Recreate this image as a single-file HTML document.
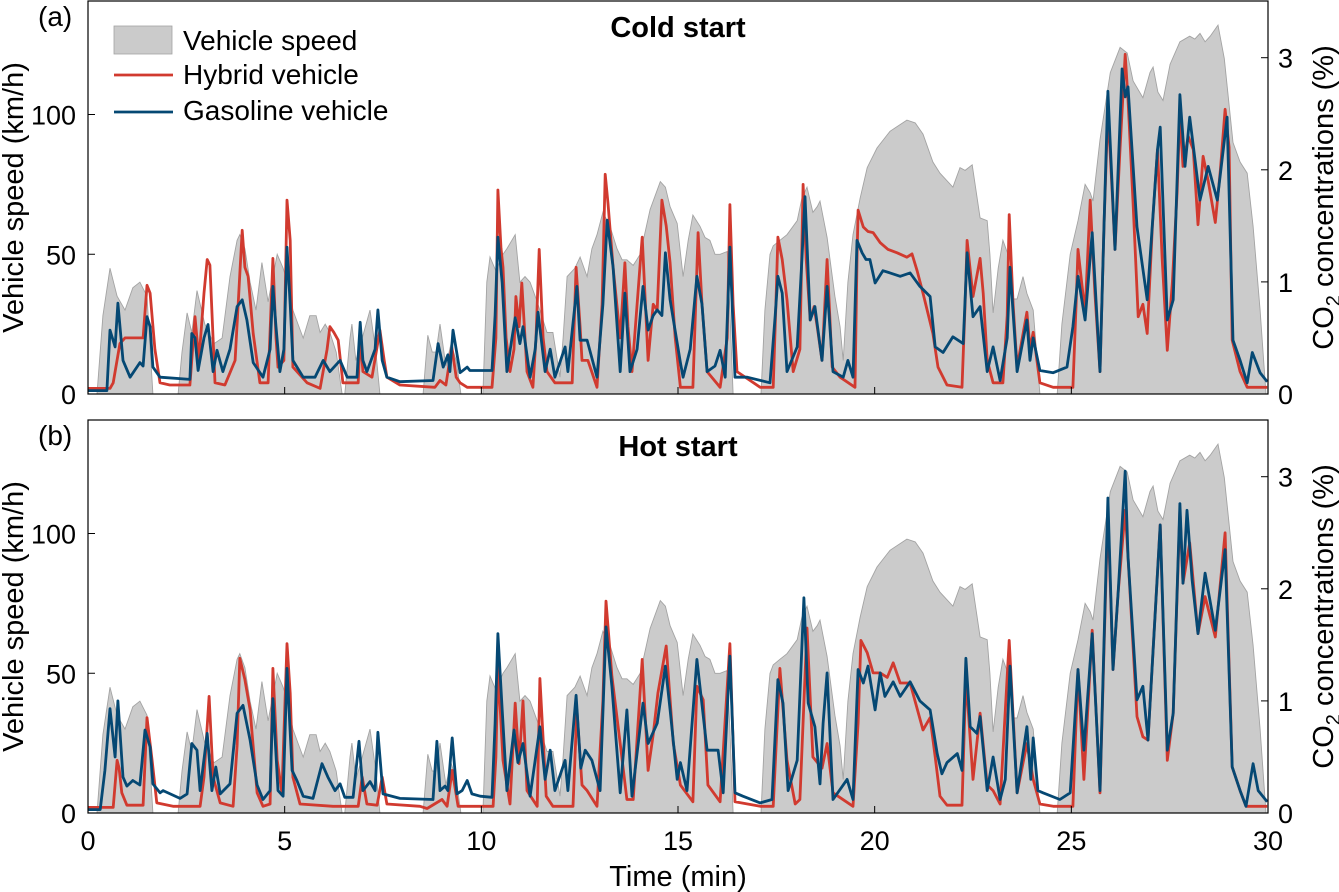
<!DOCTYPE html>
<html><head><meta charset="utf-8"><style>
html,body{margin:0;padding:0;background:#fff;}
svg{display:block;font-family:"Liberation Sans",Arial,sans-serif;}
</style></head><body>
<svg id="chart" width="1339" height="892" viewBox="0 0 1339 892" xmlns="http://www.w3.org/2000/svg"></svg>
<script>
const speedT=[0,0.23,0.38,0.56,0.74,0.94,1.14,1.32,1.5,1.65,2.29,2.39,2.52,2.64,2.77,2.97,3.2,3.41,3.61,3.79,3.86,3.99,4.12,4.27,4.42,4.58,4.81,4.96,5.09,5.21,5.34,5.47,5.64,5.8,5.9,6.03,6.15,6.31,6.46,6.53,6.66,6.71,6.81,6.97,7.17,7.32,7.42,8.52,8.64,8.75,8.85,8.95,9.1,9.23,9.36,9.48,10.04,10.14,10.22,10.37,10.55,10.65,10.86,10.98,11.11,11.24,11.42,11.67,11.82,12.0,12.08,12.18,12.38,12.51,12.69,12.81,12.94,13.09,13.27,13.45,13.58,13.7,13.86,14.04,14.29,14.55,14.68,14.8,14.98,15.13,15.26,15.38,15.56,15.69,15.81,15.94,16.07,16.25,16.32,16.4,17.11,17.21,17.34,17.42,17.59,17.77,18.03,18.15,18.28,18.43,18.54,18.61,18.79,18.99,19.12,19.2,19.32,19.45,19.63,19.81,20.06,20.39,20.82,21.03,21.23,21.48,21.66,21.99,22.17,22.3,22.48,22.68,22.86,22.93,23.01,23.14,23.26,23.39,23.52,23.62,23.77,23.87,24.03,24.2,24.64,24.76,24.97,25.17,25.35,25.48,25.55,25.73,25.99,26.24,26.42,26.57,26.82,27.0,27.08,27.2,27.33,27.51,27.76,28.01,28.14,28.27,28.4,28.53,28.73,28.89,29.11,29.29,29.47,29.62,29.8,29.95];
const speedV=[0,0,28,45,35,30,38,40,35,0,0,15,29,22,37,25,18,20,42,55,57,52,40,30,47,33,50,45,39,30,25,20,28,28,22,25,22,15,0,0,20,25,12,20,30,15,0,0,21,15,15,25,10,18,12,0,0,40,49,44,50,52,57,40,42,40,33,22,22,6,20,42,45,49,42,52,57,65,60,52,48,48,46,50,66,76,74,67,61,42,55,64,60,56,55,50,50,51,30,0,0,30,50,53,55,57,62,70,74,65,67,69,56,35,24,12,40,57,70,81,88,94,98,97,93,83,79,74,81,80,82,63,62,50,29,45,55,50,34,34,42,36,30,0,0,25,50,62,75,72,69,91,115,124,122,112,106,115,117,108,105,118,126,128,127,129,126,128,132,120,90,83,79,60,30,0];

const coldHybT=[0,0.56,0.64,0.81,0.94,1.4,1.5,1.58,1.7,1.83,2.08,2.59,2.72,2.82,2.95,3.03,3.1,3.23,3.48,3.74,3.92,3.99,4.07,4.2,4.37,4.58,4.7,4.78,4.83,4.98,5.06,5.14,5.21,5.57,5.9,6.08,6.15,6.25,6.36,6.48,6.87,6.92,6.99,7.22,7.42,7.53,7.6,7.93,8.82,8.95,9.1,9.25,9.36,9.46,9.64,10.27,10.37,10.42,10.5,10.55,10.63,10.73,10.83,10.88,10.96,11.03,11.16,11.31,11.39,11.47,11.57,11.67,11.87,12.08,12.31,12.41,12.51,12.56,12.71,12.94,13.07,13.15,13.22,13.35,13.53,13.65,13.73,13.83,14.09,14.24,14.37,14.47,14.59,14.7,14.8,14.93,15.06,15.38,15.51,15.61,15.74,16.07,16.25,16.32,16.4,16.5,17.09,17.42,17.49,17.54,17.65,17.77,17.93,18.1,18.18,18.26,18.36,18.46,18.54,18.66,18.79,18.92,19.12,19.5,19.55,19.58,19.71,19.83,19.96,20.14,20.34,20.57,20.82,20.95,21.08,21.23,21.48,21.61,21.84,22.22,22.3,22.35,22.5,22.68,22.76,22.86,23.01,23.26,23.37,23.42,23.52,23.62,23.87,23.95,24.03,24.2,24.54,25.04,25.12,25.17,25.35,25.48,25.6,25.73,25.83,25.93,26.04,26.11,26.24,26.37,26.44,26.57,26.7,26.82,26.93,27.06,27.19,27.31,27.44,27.57,27.69,27.76,27.84,27.97,28.1,28.22,28.35,28.48,28.66,28.79,28.91,29.01,29.09,29.29,29.47,29.98];
const coldHybC=[0.05,0.05,0.1,0.45,0.5,0.5,0.97,0.9,0.4,0.1,0.08,0.08,0.69,0.3,0.9,1.2,1.15,0.1,0.08,0.3,1.46,1.13,1.05,0.54,0.1,0.1,1.21,0.5,0.24,0.3,1.73,1.37,0.24,0.1,0.05,0.4,0.6,0.55,0.48,0.1,0.1,0.54,0.2,0.15,0.57,0.3,0.15,0.08,0.06,0.12,0.08,0.42,0.15,0.1,0.06,0.06,0.5,1.82,1.3,1.13,0.5,0.2,0.4,0.87,0.6,0.99,0.2,0.06,0.5,1.29,0.5,0.2,0.1,0.1,0.1,1.13,0.6,0.3,0.3,0.06,0.8,1.96,1.7,1.13,0.5,1.17,0.6,0.2,1.4,0.3,0.8,0.75,1.73,1.5,1.17,0.5,0.06,0.06,1.44,0.8,0.2,0.06,0.5,1.69,0.8,0.2,0.06,0.06,0.8,1.4,1.2,0.84,0.2,0.4,1.87,1.2,0.66,0.78,0.6,0.3,1.2,0.24,0.15,0.06,1.2,1.64,1.49,1.45,1.44,1.35,1.29,1.26,1.22,1.25,1.1,0.9,0.54,0.24,0.08,0.06,0.8,1.37,0.87,1.21,0.9,0.3,0.1,0.1,0.7,1.6,0.8,0.24,0.73,0.4,0.55,0.1,0.06,0.06,0.8,1.29,0.72,1.73,0.9,0.2,1.5,2.54,1.8,1.29,2.2,3.03,2.63,1.7,0.69,0.8,0.54,1.5,2.18,1.2,0.39,1.0,1.8,2.51,2.03,2.3,2.18,1.51,2.12,1.9,1.53,2.0,2.54,2.2,0.48,0.2,0.06,0.06];

const coldGasT=[0,0.48,0.56,0.69,0.76,0.89,1.07,1.32,1.4,1.5,1.58,1.65,1.83,2.59,2.64,2.72,2.8,2.95,3.05,3.18,3.28,3.43,3.61,3.79,3.92,4.04,4.2,4.45,4.63,4.7,4.78,4.88,4.98,5.06,5.14,5.21,5.47,5.77,5.98,6.15,6.41,6.59,6.84,6.92,6.99,7.09,7.3,7.37,7.48,7.6,7.93,8.77,8.9,9.03,9.15,9.2,9.28,9.46,9.64,9.71,10.27,10.35,10.42,10.53,10.65,10.78,10.86,10.98,11.06,11.24,11.37,11.44,11.62,11.75,11.87,12.13,12.2,12.43,12.51,12.69,12.94,13.09,13.2,13.35,13.53,13.65,13.78,13.96,14.11,14.24,14.37,14.47,14.59,14.68,14.8,15.06,15.13,15.31,15.48,15.61,15.74,15.94,16.07,16.2,16.32,16.45,16.76,17.34,17.47,17.54,17.65,17.77,18.03,18.15,18.23,18.36,18.48,18.66,18.79,18.94,19.2,19.32,19.45,19.55,19.68,19.78,19.88,20.01,20.21,20.39,20.65,20.9,21.15,21.41,21.54,21.74,21.99,22.25,22.35,22.5,22.68,22.86,23.01,23.19,23.37,23.44,23.62,23.87,23.95,24.03,24.2,24.54,24.89,25.04,25.17,25.35,25.53,25.73,25.83,25.93,26.11,26.29,26.37,26.44,26.67,26.93,27.19,27.26,27.44,27.59,27.76,27.89,28.01,28.27,28.48,28.71,28.96,29.11,29.29,29.47,29.6,29.8,29.98];
const coldGasC=[0.03,0.03,0.57,0.42,0.81,0.3,0.15,0.28,0.25,0.69,0.6,0.24,0.15,0.13,0.54,0.5,0.21,0.5,0.62,0.2,0.39,0.2,0.4,0.78,0.84,0.66,0.28,0.15,0.4,0.96,0.6,0.2,0.4,1.31,0.8,0.3,0.15,0.15,0.3,0.2,0.3,0.15,0.15,0.64,0.3,0.2,0.4,0.75,0.3,0.15,0.11,0.12,0.45,0.24,0.35,0.2,0.57,0.19,0.24,0.21,0.21,0.7,1.4,0.99,0.2,0.5,0.68,0.45,0.6,0.15,0.4,0.73,0.2,0.4,0.15,0.42,0.2,0.96,0.48,0.48,0.15,0.8,1.55,1.13,0.2,0.9,0.2,0.4,0.96,0.57,0.7,0.75,0.7,1.26,0.84,0.28,0.15,0.4,1.05,0.8,0.2,0.25,0.39,0.15,1.31,0.15,0.15,0.1,0.7,1.05,0.9,0.2,0.42,1.2,1.76,0.66,0.78,0.3,0.96,0.2,0.15,0.3,0.15,1.37,1.26,1.2,1.2,0.99,1.1,1.08,1.05,1.08,0.96,0.87,0.42,0.37,0.51,0.45,1.26,0.69,0.78,0.2,0.42,0.12,0.5,1.13,0.2,0.66,0.3,0.5,0.21,0.19,0.24,0.6,1.05,0.66,1.44,0.2,1.5,2.7,1.29,2.9,2.65,2.74,1.49,0.84,2.18,2.38,0.66,0.84,2.67,2.03,2.47,1.73,2.03,1.73,2.47,0.48,0.3,0.1,0.37,0.19,0.11];

const hotHybT=[0,0.64,0.74,0.79,0.86,0.99,1.4,1.5,1.63,1.75,2.16,2.85,2.95,3.08,3.18,3.36,3.69,3.79,3.86,3.99,4.12,4.3,4.45,4.63,4.7,4.81,4.93,5.06,5.14,5.21,5.39,6.23,6.87,6.97,7.09,7.35,7.48,7.6,8.44,8.62,9.0,9.13,9.26,9.41,10.3,10.37,10.42,10.55,10.73,10.86,10.96,11.06,11.16,11.42,11.49,11.65,11.82,12.33,12.43,12.56,12.69,12.94,13.09,13.17,13.32,13.53,13.7,13.86,14.09,14.24,14.37,14.49,14.7,14.88,15.06,15.38,15.48,15.64,15.76,16.07,16.32,16.45,17.09,17.42,17.59,17.77,17.98,18.1,18.28,18.43,18.66,18.79,18.94,19.45,19.58,19.65,19.81,19.96,20.14,20.32,20.47,20.65,20.9,21.23,21.41,21.54,21.66,21.84,22.22,22.32,22.5,22.68,22.86,23.01,23.19,23.42,23.62,23.87,24.03,24.2,24.54,25.04,25.17,25.32,25.53,25.73,25.93,26.06,26.19,26.37,26.44,26.67,26.82,26.95,27.26,27.44,27.59,27.76,27.84,28.01,28.22,28.4,28.66,28.91,29.09,29.29,29.44,29.98];
const hotHybC=[0.05,0.05,0.47,0.4,0.18,0.07,0.07,0.85,0.47,0.09,0.06,0.06,0.32,1.04,0.32,0.09,0.06,0.6,1.38,1.19,0.92,0.18,0.06,0.08,1.29,0.47,0.18,1.51,1.07,0.32,0.08,0.06,0.06,0.32,0.08,0.07,0.32,0.08,0.06,0.04,0.12,0.06,0.38,0.06,0.06,0.5,1.31,0.47,0.08,0.98,0.44,1.0,0.2,0.06,1.2,0.15,0.06,0.06,0.92,0.25,0.2,0.06,1.0,1.89,1.22,0.62,0.12,0.12,1.37,0.38,0.7,1.07,1.49,0.62,0.25,0.1,1.13,1.01,0.25,0.1,1.51,0.1,0.06,0.06,1.29,0.47,0.08,0.12,1.65,0.5,0.4,0.62,0.18,0.06,0.8,1.54,1.43,1.25,1.25,1.21,1.34,1.16,1.16,0.74,0.85,0.5,0.15,0.07,0.07,1.22,0.3,0.89,0.25,0.2,0.08,1.54,0.18,0.62,0.3,0.08,0.06,0.06,1.28,0.3,1.63,0.18,2.7,1.28,1.96,2.7,2.29,0.86,0.68,0.65,2.57,0.47,0.89,2.7,2.05,2.41,1.6,1.93,1.57,2.5,0.41,0.2,0.06,0.06];

const hotGasT=[0,0.31,0.43,0.56,0.69,0.76,0.89,0.99,1.14,1.32,1.45,1.58,1.65,1.83,1.91,2.34,2.52,2.64,2.77,2.85,3.03,3.15,3.25,3.36,3.61,3.79,3.94,4.12,4.3,4.45,4.63,4.7,4.83,4.96,5.06,5.19,5.31,5.47,5.72,5.95,6.1,6.28,6.41,6.53,6.74,6.89,6.99,7.17,7.3,7.37,7.5,7.93,8.77,8.87,8.95,9.08,9.15,9.26,9.38,9.51,9.64,9.76,9.97,10.27,10.35,10.42,10.53,10.65,10.83,10.93,11.06,11.24,11.49,11.62,11.75,11.87,12.13,12.2,12.41,12.53,12.64,12.81,13.02,13.17,13.32,13.53,13.7,13.83,14.11,14.24,14.47,14.68,14.8,14.98,15.06,15.23,15.48,15.74,16.02,16.15,16.32,16.45,16.65,17.09,17.39,17.54,17.67,17.8,18.03,18.2,18.31,18.48,18.61,18.69,18.79,18.94,19.3,19.45,19.58,19.71,19.83,20.01,20.14,20.26,20.47,20.65,20.9,21.15,21.41,21.59,21.71,21.84,22.1,22.22,22.32,22.43,22.6,22.68,22.86,23.01,23.19,23.32,23.44,23.62,23.87,23.97,24.03,24.15,24.28,24.71,24.97,25.17,25.32,25.53,25.73,25.93,26.06,26.19,26.37,26.44,26.67,26.82,26.95,27.26,27.44,27.59,27.76,27.84,27.94,28.07,28.22,28.4,28.66,28.91,29.09,29.29,29.44,29.62,29.75,29.98];
const hotGasC=[0.03,0.03,0.38,0.93,0.5,1.0,0.32,0.24,0.29,0.25,0.74,0.59,0.26,0.18,0.2,0.13,0.17,0.62,0.56,0.2,0.71,0.2,0.41,0.17,0.26,0.89,0.96,0.65,0.25,0.12,0.2,1.02,0.2,0.15,1.29,0.38,0.29,0.15,0.13,0.44,0.32,0.2,0.26,0.14,0.14,0.64,0.2,0.28,0.2,0.72,0.17,0.13,0.12,0.64,0.2,0.24,0.2,0.67,0.17,0.2,0.29,0.17,0.15,0.14,0.8,1.6,0.92,0.2,0.74,0.45,0.62,0.15,0.77,0.3,0.56,0.2,0.47,0.2,1.05,0.4,0.56,0.47,0.2,1.66,1.13,0.18,0.92,0.15,0.98,0.62,0.8,1.31,0.92,0.3,0.45,0.2,1.37,0.56,0.56,0.18,1.4,0.18,0.15,0.09,0.12,1.19,0.98,0.2,0.47,1.92,0.98,0.77,0.26,0.8,1.25,0.12,0.3,0.12,1.28,1.16,1.31,0.92,1.25,1.04,1.17,1.04,1.17,1.0,0.92,0.53,0.35,0.45,0.53,0.38,1.38,0.77,0.71,0.86,0.2,0.5,0.12,0.3,1.31,0.18,0.77,0.3,0.67,0.2,0.18,0.12,0.18,1.28,0.56,1.6,0.2,2.81,1.28,1.96,3.05,2.29,1.01,1.13,0.65,2.57,0.56,0.89,2.76,2.05,2.7,2.08,1.6,2.14,1.63,2.35,0.41,0.2,0.06,0.44,0.2,0.1];

const speedTicks=[0,50,100];
const co2Ticks=[0,1,2,3];
const timeTicks=[0,5,10,15,20,25,30];

const NS="http://www.w3.org/2000/svg";
const svg=document.getElementById('chart');
const X0=88,X1=1268;
const xs=t=>X0+t*(X1-X0)/30;
function mk(tag,attrs,parent){const e=document.createElementNS(NS,tag);for(const k in attrs)e.setAttribute(k,attrs[k]);(parent||svg).appendChild(e);return e;}
function txt(s,attrs,parent){const e=mk('text',attrs,parent);e.textContent=s;return e;}

function panel(top,bottom,hybT,hybC,gasT,gasC,title,letter,key){
  const g=mk('g',{});
  
  
  const ys=v=>bottom-v*2.795;
  const yc=c=>bottom-c*112.1;
  let d='M'+xs(speedT[0])+','+ys(0);
  for(let i=0;i<speedT.length;i++)d+=' L'+xs(speedT[i]).toFixed(1)+','+ys(speedV[i]).toFixed(1);
  d+=' L'+xs(speedT[speedT.length-1])+','+ys(0)+' Z';
  const area=mk('path',{d:d,fill:'#cbcbcb',stroke:'#a3a3a3','stroke-width':0.9},g);
  
  
  function line(T,C,color,name){
    let p='';
    for(let i=0;i<T.length;i++)p+=(i?' L':'M')+xs(T[i]).toFixed(1)+','+yc(C[i]).toFixed(1);
    const l=mk('path',{d:p,fill:'none',stroke:color,'stroke-width':2.8,'stroke-linejoin':'round'},g);
    
    
  }
  line(hybT,hybC,'#d13a2f',key+'-hybrid-line');
  line(gasT,gasC,'#054873',key+'-gasoline-line');
  const fr=mk('rect',{x:X0,y:top,width:X1-X0,height:bottom-top,fill:'none',stroke:'#000','stroke-width':1.2},g);
  
  
  speedTicks.forEach(v=>{
    mk('line',{x1:X0,x2:X0+7,y1:ys(v),y2:ys(v),stroke:'#000','stroke-width':1},g);
    const t=txt(String(v),{x:X0-12,y:ys(v)+10,'text-anchor':'end','font-size':27,fill:'#000'},g);
    
    
  });
  co2Ticks.forEach(c=>{
    mk('line',{x1:X1-7,x2:X1,y1:yc(c),y2:yc(c),stroke:'#000','stroke-width':1},g);
    const t=txt(String(c),{x:X1+10,y:yc(c)+10,'font-size':27,fill:'#000'},g);
    
    
  });
  timeTicks.forEach(t=>{
    mk('line',{x1:xs(t),x2:xs(t),y1:bottom,y2:bottom-7,stroke:'#000','stroke-width':1},g);
  });
  const ti=txt(title,{x:678,y:top+36,'text-anchor':'middle','font-size':29,'font-weight':'bold',fill:'#000'},g);
  
  
  const le=txt(letter,{x:38,y:top+25,'text-anchor':'start','font-size':28,fill:'#000'},g);
  
  
  const mid=(top+bottom)/2;
  const yl=txt('Vehicle speed (km/h)',{x:0,y:0,transform:'translate(23,'+mid+') rotate(-90)','text-anchor':'middle','font-size':29,fill:'#000'},g);
  
  
  const yr=mk('text',{x:0,y:0,transform:'translate(1333,'+mid+') rotate(-90)','text-anchor':'middle','font-size':29,fill:'#000'},g);
  
  
  const s1=mk('tspan',{},yr);s1.textContent='CO';
  const s2=mk('tspan',{'font-size':20,dy:7},yr);s2.textContent='2';
  const s3=mk('tspan',{dy:-7},yr);s3.textContent=' concentrations (%)';
}
panel(1,394,coldHybT,coldHybC,coldGasT,coldGasC,'Cold start','(a)','cold');
panel(420,813,hotHybT,hotHybC,hotGasT,hotGasC,'Hot start','(b)','hot');

timeTicks.forEach(t=>{
  const l=txt(String(t),{x:xs(t),y:850,'text-anchor':'middle','font-size':27,fill:'#000'});
  
  
});
const xt=txt('Time (min)',{x:678,y:886,'text-anchor':'middle','font-size':29,fill:'#000'});



const lg=mk('g',{});


const lr=mk('rect',{x:114,y:26,width:58,height:28,fill:'#cbcbcb',stroke:'#a3a3a3','stroke-width':0.8},lg);


const t1=txt('Vehicle speed',{x:183,y:50,'font-size':28,fill:'#000'},lg);


const l2=mk('line',{x1:114,x2:173,y1:75,y2:75,stroke:'#d13a2f','stroke-width':2.8},lg);


const t2=txt('Hybrid vehicle',{x:183,y:84,'font-size':28,fill:'#000'},lg);


const l3=mk('line',{x1:114,x2:173,y1:112,y2:112,stroke:'#054873','stroke-width':2.8},lg);


const t3=txt('Gasoline vehicle',{x:183,y:120,'font-size':28,fill:'#000'},lg);


</script>
</body></html>
